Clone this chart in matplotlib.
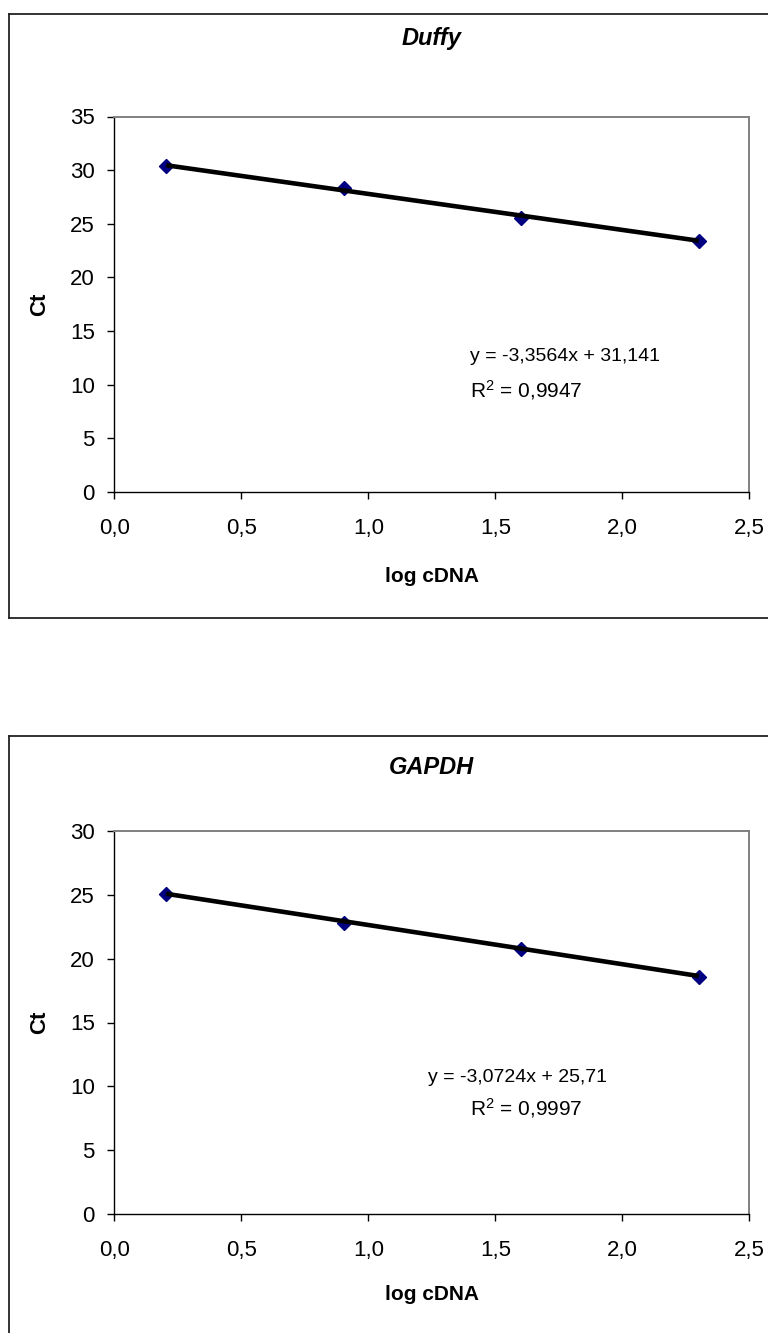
import numpy as np
import matplotlib
matplotlib.use('Agg')
import matplotlib.pyplot as plt
from matplotlib.lines import Line2D
from matplotlib.ticker import FuncFormatter, MultipleLocator

plt.rcParams['font.family'] = ['Liberation Sans', 'DejaVu Sans']
plt.rcParams['mathtext.fontset'] = 'custom'
plt.rcParams['mathtext.rm'] = 'Liberation Sans'
plt.rcParams['mathtext.default'] = 'regular'

# data
log_cdna = [0.204, 0.903, 1.602, 2.301]
ct_duffy = [30.38, 28.30, 25.50, 23.42]
ct_gapdh = [25.04, 22.83, 20.77, 18.55]

# trend line coefficients as printed on the chart
fit_duffy = (-3.3564, 31.141)
fit_gapdh = (-3.0724, 25.71)
eq_duffy = ['y = -3,3564x + 31,141', 'R$^{2}$ = 0,9947']
eq_gapdh = ['y = -3,0724x + 25,71', 'R$^{2}$ = 0,9997']

W, H = 768, 1333
fig = plt.figure(figsize=(W/100, H/100), dpi=100)

def fx(px):
    return px / W

def fy(py):
    return 1 - py / H

def comma(v, pos):
    return ('%.1f' % v).replace('.', ',')

def panel(box, ytop, title, title_y, ys, fit, eqs, eq_pos, xlab_y):
    # outer chart border (right and bottom run off the picture)
    x0, y0, y1 = box
    fig.add_artist(Line2D([fx(x0), fx(x0)], [fy(y0), fy(y1)], color='#222222', lw=1.3))
    fig.add_artist(Line2D([fx(x0), 1.01], [fy(y0), fy(y0)], color='#222222', lw=1.3))
    fig.add_artist(Line2D([fx(x0), 1.01], [fy(y1), fy(y1)], color='#222222', lw=1.3))

    top, bot = ytop
    ax = fig.add_axes([fx(114.3), fy(bot), fx(749.3) - fx(114.3), fy(top) - fy(bot)])
    ax.set_xlim(0, 2.5)
    ax.set_ylim(0, ys[1])
    ax.xaxis.set_major_locator(MultipleLocator(0.5))
    ax.yaxis.set_major_locator(MultipleLocator(5))
    ax.xaxis.set_major_formatter(FuncFormatter(comma))
    for s in ['top', 'right']:
        ax.spines[s].set_color('#808080')
        ax.spines[s].set_linewidth(1.4)
    for s in ['left', 'bottom']:
        ax.spines[s].set_color('black')
        ax.spines[s].set_linewidth(1.0)
    ax.tick_params(axis='both', direction='out', length=5, width=1.0, labelsize=16)
    ax.tick_params(axis='x', pad=14)
    ax.tick_params(axis='y', pad=9)

    vals = ys[0]
    ax.plot(log_cdna, vals, 'D', color='#000080', ms=7.5, zorder=3, clip_on=False)
    xl = np.array([log_cdna[0], log_cdna[-1]])
    ax.plot(xl, fit[0]*xl + fit[1], color='black', lw=3.3, zorder=4, solid_capstyle='butt')

    (ex, ey), (rx, ry) = eq_pos
    fig.text(fx(ex), fy(ey), eqs[0], fontsize=14, ha='left', va='center')
    fig.text(fx(rx), fy(ry), eqs[1], fontsize=15, ha='left', va='center')

    fig.text(fx(431.8), fy(title_y), title, fontsize=17, fontweight='bold', fontstyle='italic',
             ha='center', va='center')
    fig.text(fx(431.8), fy(xlab_y), 'log cDNA', fontsize=15, fontweight='bold', ha='center', va='center')
    fig.text(fx(40), fy((top + bot) / 2), 'Ct', fontsize=16, fontweight='bold', rotation=90,
             ha='center', va='center')
    return ax

panel((9, 14, 618), (116.5, 492), 'Duffy', 39, (ct_duffy, 35), fit_duffy, eq_duffy,
      ((470, 357), (470, 390)), 576)
panel((9, 736, 1340), (831, 1214), 'GAPDH', 768, (ct_gapdh, 30), fit_gapdh, eq_gapdh,
      ((428, 1077), (470, 1108)), 1294)

fig.savefig('out.png', dpi=100)
